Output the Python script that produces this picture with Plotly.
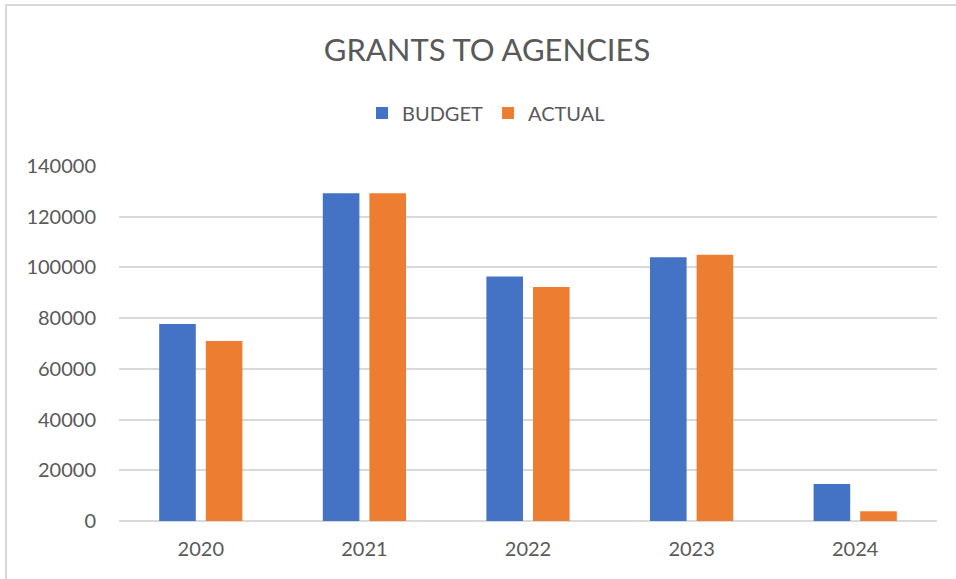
import plotly.graph_objects as go

years = ["2020", "2021", "2022", "2023", "2024"]
budget = [77700, 129300, 96400, 104000, 14600]
actual = [71000, 129300, 92300, 105000, 3800]
y_ticks = [0, 20000, 40000, 60000, 80000, 100000, 120000, 140000]

W, H = 956, 579
L, R, T, B = 119, 19, 166, 58
pw, ph = W - L - R, H - T - B

def px_x(x):
    return (x - L) / pw

def px_y(y):
    return (H - B - y) / ph

text_col = "#595959"
font = "Lato"

fig = go.Figure()
fig.add_trace(go.Bar(x=years, y=budget, name="BUDGET", marker_color="#4472C4",
                     marker_line_width=0))
fig.add_trace(go.Bar(x=years, y=actual, name="ACTUAL", marker_color="#ED7D31",
                     marker_line_width=0))

fig.update_layout(
    width=W, height=H,
    margin=dict(l=L, r=R, t=T, b=B),
    paper_bgcolor="white", plot_bgcolor="white",
    barmode="group", bargap=0.43, bargroupgap=0.215,
    font=dict(family=font, color=text_col, size=20),
    title=dict(text="GRANTS TO AGENCIES", x=487 / W, xref="container", xanchor="center",
               y=1 - 50 / H, yref="container", yanchor="middle",
               font=dict(size=31, color=text_col, family=font)),
    legend=dict(orientation="h", xref="container", x=486 / W, xanchor="center",
                yref="container", y=1 - 113 / H, yanchor="middle",
                font=dict(size=20, color=text_col), bgcolor="rgba(0,0,0,0)"),
    showlegend=True,
    xaxis=dict(showgrid=False, showline=False, ticks="", tickfont=dict(size=20),
               ticklabelstandoff=14),
    yaxis=dict(range=[0, 140000], tickvals=y_ticks, ticktext=[str(v) for v in y_ticks],
               showgrid=True, gridcolor="#D9D9D9", gridwidth=2,
               zeroline=True, zerolinecolor="#D9D9D9", zerolinewidth=2,
               showline=False, ticks="", tickfont=dict(size=20), ticklabelstandoff=22),
    shapes=[
        dict(type="line", xref="paper", yref="paper", x0=px_x(5), x1=px_x(W + 5),
             y0=px_y(5), y1=px_y(5), line=dict(color="#D9D9D9", width=2)),
        dict(type="line", xref="paper", yref="paper", x0=px_x(6), x1=px_x(6),
             y0=px_y(4), y1=px_y(H + 5), line=dict(color="#D9D9D9", width=2)),
    ],
)

fig.write_html("out.html")
